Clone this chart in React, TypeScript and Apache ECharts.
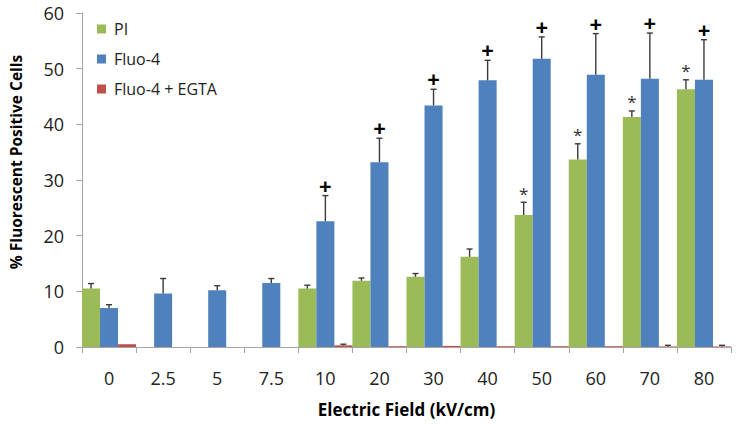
import React, { useEffect, useRef } from "react";
import * as echarts from "echarts";

const categories = ["0", "2.5", "5", "7.5", "10", "20", "30", "40", "50", "60", "70", "80"];
const seriesNames = ["PI", "Fluo-4", "Fluo-4 + EGTA"];
const piValues = [10.5, null, null, null, 10.5, 11.9, 12.6, 16.2, 23.7, 33.7, 41.3, 46.3];
const piErrors = [0.9, null, null, null, 0.6, 0.5, 0.6, 1.4, 2.3, 2.8, 1.1, 1.7];
const fluoValues = [7.0, 9.6, 10.2, 11.5, 22.6, 33.2, 43.4, 47.9, 51.8, 48.9, 48.2, 48.0];
const fluoErrors = [0.6, 2.7, 0.8, 0.8, 4.6, 4.3, 2.9, 3.6, 3.9, 7.4, 8.2, 7.2];
const egtaValues = [0.5, null, null, null, 0.3, 0.15, 0.2, 0.15, 0.15, 0.15, 0.1, 0.1];
const egtaErrors = [0, null, null, null, 0.2, 0, 0, 0, 0, 0, 0.2, 0.2];
const piMarks = ["", "", "", "", "", "", "", "", "*", "*", "*", "*"];
const fluoMarks = ["", "", "", "", "+", "+", "+", "+", "+", "+", "+", "+"];
const egtaMarks = ["", "", "", "", "", "", "", "", "", "", "", ""];
const yTicks = [0, 10, 20, 30, 40, 50, 60];

const colors = ["#9BBB59", "#4F81BD", "#C0504D"];
const FONT = "Open Sans";

function errorSeries(values: (number | null)[], errors: (number | null)[], marks: string[], slot: number) {
  const data = values.map((v, i) => [i, v == null ? null : v, errors[i] == null ? 0 : errors[i], marks[i]]);
  return {
    type: "custom",
    silent: true,
    z: 10,
    data: data.filter((d) => d[1] != null),
    encode: { x: 0, y: 1 },
    renderItem: (params: any, api: any) => {
      const idx = api.value(0);
      const val = api.value(1);
      const err = api.value(2);
      const mark = marks[idx];
      const band = api.size([1, 0])[0];
      const off = ((slot - 1) * band) / 3;
      const base = api.coord([idx, val]);
      const top = api.coord([idx, val + err]);
      const x = base[0] + off;
      const children: any[] = [];
      if (err > 0) {
        children.push({
          type: "line",
          shape: { x1: x, y1: base[1], x2: x, y2: top[1] },
          style: { stroke: "#3a3a3a", lineWidth: 1.4 },
        });
        children.push({
          type: "line",
          shape: { x1: x - 3, y1: top[1], x2: x + 3, y2: top[1] },
          style: { stroke: "#3a3a3a", lineWidth: 1.4 },
        });
      }
      if (mark) {
        const isPlus = mark === "+";
        children.push({
          type: "text",
          style: {
            text: mark,
            x: x,
            y: top[1] - (isPlus ? 11 : 9),
            align: "center",
            verticalAlign: "middle",
            fontFamily: FONT,
            fontSize: isPlus ? 22 : 17,
            fontWeight: isPlus ? "bold" : "normal",
            fill: isPlus ? "#000" : "#333",
          },
        });
      }
      return { type: "group", children };
    },
  };
}

export default function App() {
  const ref = useRef<HTMLDivElement>(null);
  useEffect(() => {
    if (!ref.current) return;
    const chart = echarts.init(ref.current, null, { renderer: "svg" });
    const barSeries = [piValues, fluoValues, egtaValues].map((vals, k) => ({
      name: seriesNames[k],
      type: "bar",
      data: vals.map((v) => (v == null ? "-" : v)),
      barGap: "0%",
      barCategoryGap: "0%",
      itemStyle: { color: colors[k] },
    }));
    chart.setOption({
      animation: false,
      color: colors,
      textStyle: { fontFamily: FONT },
      grid: { left: 82, right: 7, top: 13, bottom: 82, containLabel: false },
      legend: {
        data: seriesNames,
        orient: "vertical",
        left: 92,
        top: 16,
        itemWidth: 9,
        itemHeight: 9,
        itemGap: 14,
        icon: "rect",
        textStyle: { fontFamily: FONT, fontSize: 16, color: "#222", padding: [0, 0, 0, 3] },
      },
      xAxis: {
        type: "category",
        data: categories,
        name: "Electric Field (kV/cm)",
        nameLocation: "middle",
        nameGap: 54,
        nameTextStyle: { fontFamily: FONT, fontSize: 17, fontWeight: "bold", color: "#000" },
        axisLine: { lineStyle: { color: "#a6a6a6", width: 1 } },
        axisTick: { show: true, length: 6, lineStyle: { color: "#a6a6a6" } },
        axisLabel: { margin: 22, fontFamily: FONT, fontSize: 18, color: "#222" },
      },
      yAxis: {
        type: "value",
        min: 0,
        max: 60,
        interval: 10,
        name: "% Fluorescent Positive Cells",
        nameLocation: "middle",
        nameGap: 58,
        nameTextStyle: {
          fontFamily: FONT,
          fontSize: 15.5,
          fontWeight: "bold",
          color: "#000",
          padding: [0, 0, 0, 36],
        },
        axisLine: { show: true, lineStyle: { color: "#a6a6a6", width: 1 } },
        axisTick: { show: true, length: 6, lineStyle: { color: "#a6a6a6" } },
        splitLine: { show: false },
        axisLabel: {
          margin: 18,
          fontFamily: FONT,
          fontSize: 18,
          color: "#222",
          formatter: (v: number) => (yTicks.includes(v) ? String(v) : ""),
        },
      },
      series: [
        ...barSeries,
        errorSeries(piValues, piErrors, piMarks, 0),
        errorSeries(fluoValues, fluoErrors, fluoMarks, 1),
        errorSeries(egtaValues, egtaErrors, egtaMarks, 2),
      ],
    });
    return () => chart.dispose();
  }, []);
  return <div ref={ref} style={{ width: 738, height: 429, position: "absolute", left: 0, top: 0 }} />;
}
